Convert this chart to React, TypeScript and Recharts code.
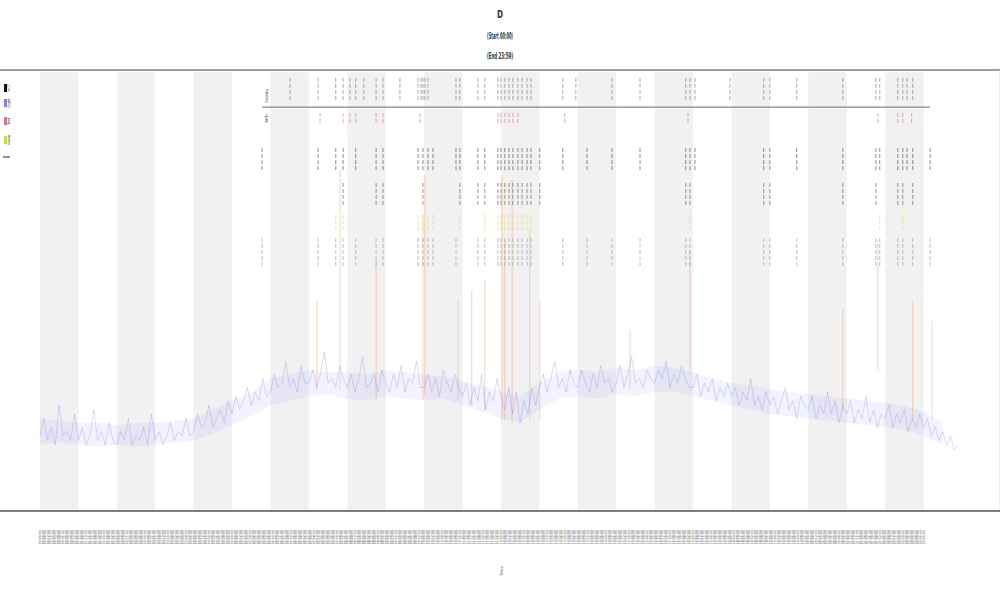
import React from 'react';
import { ComposedChart, Line, Area, XAxis, YAxis, ReferenceArea, ReferenceLine, Scatter } from 'recharts';

// activity trace, one value every 0.1 h
const activity = [
  17, 21, 16, 19, 15, 24, 17, 18, 16, 22,
  16, 19, 15, 17, 23, 16, 18, 15, 20, 16,
  15, 18, 16, 21, 15, 17, 16, 19, 15, 22,
  16, 18, 15, 17, 20, 16, 18, 17, 21, 17,
  18, 22, 19, 20, 24, 19, 21, 23, 20, 25,
  22, 26, 23, 25, 28, 24, 27, 25, 30, 26,
  27, 31, 28, 29, 34, 28, 30, 27, 33, 29,
  29, 32, 28, 31, 36, 29, 30, 28, 33, 30,
  28, 31, 27, 30, 35, 28, 29, 31, 27, 32,
  29, 27, 31, 28, 33, 27, 30, 29, 34, 28,
  28, 31, 27, 30, 26, 32, 29, 27, 31, 28,
  26, 29, 24, 28, 25, 31, 23, 27, 25, 30,
  26, 23, 28, 22, 27, 20, 25, 22, 28, 24,
  28, 31, 27, 30, 34, 28, 30, 27, 32, 29,
  28, 32, 29, 27, 31, 28, 33, 29, 30, 27,
  29, 33, 28, 31, 35, 29, 30, 28, 32, 30,
  29, 32, 30, 34, 28, 31, 29, 33, 30, 28,
  28, 31, 26, 29, 27, 30, 25, 28, 26, 29,
  26, 28, 24, 27, 25, 30, 24, 26, 23, 27,
  24, 26, 22, 25, 28, 23, 25, 21, 26, 24,
  23, 26, 21, 24, 22, 27, 22, 25, 20, 24,
  22, 25, 20, 23, 21, 26, 20, 23, 19, 22,
  21, 24, 19, 22, 20, 23, 18, 21, 19, 22,
  19, 21, 17, 19, 16, 18, 15, 17, 14, 15,
];

// dense part of the trace, every 0.5 h: lower and upper edge
const bandLow = [15, 15.5, 15, 14.5, 15, 14.5, 15, 15.5, 16, 17.5, 19.5, 21.5, 24, 25, 26, 26.5, 25.5, 25, 26, 25.5, 25, 25.5, 24, 22.5, 21, 20, 23, 25.5, 26, 25.5, 26.5, 26, 27, 27, 26, 25, 24, 23, 22, 21.5, 21, 20.5, 20, 19.5, 19, 18.5, 17, 15];
const bandHigh = [21, 20.5, 20, 20, 19.5, 20, 20, 20.5, 21, 23, 25, 27, 30, 31, 32, 31.5, 31.5, 31, 32, 31.5, 31, 30.5, 29.5, 28.5, 27, 26, 29, 31.5, 32, 31.5, 32.5, 32, 33, 32.5, 31.5, 30, 29, 28.5, 27.5, 27, 26.5, 26, 25.5, 25, 24.5, 24, 22.5, 20];

// event times (hours) per marker row
const rowA = [6.51, 7.24, 7.7, 7.89, 8.07, 8.22, 8.43, 8.75, 8.93, 9.37, 9.84, 9.92, 9.97, 10.02, 10.1, 10.83, 10.93, 11.4, 11.58, 11.92, 12.0, 12.1, 12.21, 12.31, 12.44, 12.55, 12.68, 12.78, 13.61, 13.95, 14.89, 15.62, 16.81, 16.92, 17.05, 17.96, 18.84, 19.0, 19.7, 20.9, 21.76, 21.86, 22.33, 22.46, 22.57, 22.72];
const rowB = [5.9, 7.29, 7.89, 8.07, 8.22, 8.75, 8.93, 9.89, 11.92, 12.0, 12.1, 12.21, 12.31, 12.44, 13.66, 16.87, 21.81, 22.33, 22.46, 22.69];
const rowC = [5.78, 7.24, 7.7, 7.89, 8.22, 8.75, 8.93, 9.84, 9.97, 10.1, 10.23, 10.83, 10.93, 11.4, 11.58, 11.92, 12.0, 12.1, 12.21, 12.31, 12.44, 12.55, 12.68, 12.78, 13.01, 13.61, 14.24, 14.89, 15.62, 16.81, 16.92, 17.05, 18.84, 19.0, 19.7, 20.9, 21.76, 21.86, 22.33, 22.46, 22.57, 22.72, 23.17];
const rowD = [7.89, 8.75, 8.93, 9.97, 10.93, 11.4, 11.58, 11.92, 12.0, 12.1, 12.21, 12.31, 12.44, 12.55, 12.68, 12.78, 13.01, 16.81, 16.92, 18.84, 19.0, 20.9, 21.76, 22.33, 22.46, 22.72];
const rowE = [7.7, 7.89, 9.84, 9.97, 10.1, 10.23, 10.93, 11.58, 11.92, 12.0, 12.1, 12.21, 12.31, 12.44, 12.55, 12.68, 12.78, 16.92, 21.86, 22.46];
const rowF = [5.78, 7.24, 7.7, 7.89, 8.22, 8.75, 8.93, 9.84, 9.97, 10.1, 10.23, 10.83, 11.4, 11.58, 11.92, 12.0, 12.1, 12.21, 12.31, 12.44, 12.55, 12.68, 12.78, 13.61, 14.24, 14.89, 15.62, 16.81, 16.92, 18.84, 19.0, 19.7, 20.9, 21.76, 21.86, 22.33, 22.46, 22.72, 23.17];

// orange spikes: time, top value, bottom value
const spikeTimes = [7.21, 7.81, 8.75, 9.97, 10.02, 10.88, 11.24, 11.58, 12.03, 12.1, 12.29, 12.75, 13.01, 15.36, 16.92, 20.9, 21.81, 22.72, 23.22];
const spikeTops = [47.8, 77.3, 56.9, 67.1, 76.2, 47.8, 50.1, 52.4, 76.2, 61.5, 75.1, 63.7, 47.8, 41.0, 59.2, 45.6, 61.5, 47.8, 43.3];
const spikeBottoms = [27.4, 27.4, 25.2, 25.2, 26.3, 25.2, 24.0, 22.9, 20.6, 20.6, 19.5, 20.6, 20.6, 27.4, 30.8, 22.9, 32.0, 20.6, 20.6];

const yTicks = [5, 25, 50, 75];
const bandStarts = [0, 2, 4, 6, 8, 10, 12, 14, 16, 18, 20, 22];
const eventLineStart = 5.78;
const eventLineEnd = 23.17;

const pad = (n: number) => String(n).padStart(2, '0');
const xTicks: number[] = [];
for (let i = 0; i <= 345; i++) xTicks.push(i / 15);
const tickLabel = (v: number) => {
  const m = Math.round(v * 60);
  return `${pad(Math.floor(m / 60))}:${pad(m % 60)}:00`;
};

const lineData = activity.map((v, i) => ({
  x: +(i * 0.1).toFixed(1),
  v,
  band: i % 5 === 0 && bandLow[i / 5] !== undefined ? [bandLow[i / 5], bandHigh[i / 5]] : undefined,
}));

const rows = [
  { data: rowA, center: 95.5, h: 24, color: '#666' },
  { data: rowB, center: 88.9, h: 12, color: '#e06070' },
  { data: rowC, center: 79.8, h: 22, color: '#333' },
  { data: rowD, center: 71.9, h: 22, color: '#444' },
  { data: rowE, center: 65.3, h: 17, color: '#d8d840' },
  { data: rowF, center: 58.5, h: 30, color: '#8a8a9a' },
];

const XTick = (props: any) => {
  const { x, payload } = props;
  return (
    <text transform={`translate(${x + 1},530) rotate(-90)`} textAnchor="end" fontSize={3.2} fill="#666" fontFamily="DejaVu Sans">
      {tickLabel(payload.value)}
    </text>
  );
};

const YTick = (props: any) => {
  const { y, payload } = props;
  return (
    <text transform={`translate(5,${y}) rotate(-90)`} textAnchor="middle" fontSize={3.5} fill="#888" fontFamily="DejaVu Sans">
      {payload.value}
    </text>
  );
};

export default function App() {
  return (
    <div style={{ position: 'absolute', left: 0, top: 0, width: 1000, height: 600, background: '#fff' }}>
      <ComposedChart width={1000} height={600} data={lineData} margin={{ top: 70, right: 0, bottom: 59, left: 0 }}>
        <XAxis
          dataKey="x"
          type="number"
          height={30}
          domain={[-1.04, 24.99]}
          ticks={xTicks}
          interval={0}
          tick={<XTick />}
          tickLine={false}
          axisLine={{ stroke: '#000', strokeWidth: 1 }}
          allowDataOverflow
        />
        <YAxis type="number" domain={[0, 100]} ticks={yTicks} width={0} mirror tick={<YTick />} axisLine={false} tickLine={false} allowDataOverflow />
        {bandStarts.map((s) => (
          <ReferenceArea key={s} x1={s} x2={s + 1} y1={0} y2={99.5} fill="#ececec" fillOpacity={0.75} stroke="none" ifOverflow="hidden" />
        ))}
        <ReferenceLine y={100} stroke="#9a9a9a" strokeWidth={2} />
        <ReferenceLine x={24.99} stroke="#ddd" strokeWidth={1} />
        <ReferenceLine segment={[{ x: eventLineStart, y: 91.6 }, { x: eventLineEnd, y: 91.6 }]} stroke="#888" strokeWidth={1.2} />
        {spikeTimes.map((t, i) => (
          <ReferenceLine
            key={`s${i}`}
            segment={[{ x: t, y: spikeTops[i] }, { x: t, y: spikeBottoms[i] }]}
            stroke="#f08a3c"
            strokeOpacity={0.45}
            strokeWidth={0.8}
          />
        ))}
        <Area dataKey="band" type="linear" connectNulls stroke="none" fill="#7a7aff" fillOpacity={0.09} isAnimationActive={false} />
        <Line dataKey="v" stroke="#5a5aff" strokeOpacity={0.38} strokeWidth={0.6} dot={false} isAnimationActive={false} />
        {rows.map((r, ri) => (
          <Scatter
            key={`r${ri}`}
            data={r.data.map((x) => ({ x, v: r.center }))}
            dataKey="v"
            isAnimationActive={false}
            shape={(p: any) => (
              <line x1={p.cx} x2={p.cx} y1={p.cy - r.h / 2} y2={p.cy + r.h / 2} stroke={r.color} strokeOpacity={0.7} strokeWidth={0.8} strokeDasharray="4 2" />
            )}
          />
        ))}
      </ComposedChart>
      <svg width={1000} height={600} style={{ position: 'absolute', left: 0, top: 0, pointerEvents: 'none' }} fontFamily="DejaVu Sans">
        <text x={500} y={18} textAnchor="middle" fontSize={10} fontWeight="bold" textLength={6} lengthAdjust="spacingAndGlyphs" fill="#333">D</text>
        <text x={500} y={39} textAnchor="middle" fontSize={9} fontWeight="bold" textLength={26} lengthAdjust="spacingAndGlyphs" fill="#333">(Start 00:00)</text>
        <text x={500} y={59} textAnchor="middle" fontSize={9} fontWeight="bold" textLength={26} lengthAdjust="spacingAndGlyphs" fill="#333">(End 23:59)</text>
        <text x={500} y={574} textAnchor="middle" fontSize={4} fill="#666" transform="rotate(-90 500 571)">Time</text>
        {/* legend */}
        <rect x={4} y={84} width={3} height={8} fill="#111" />
        <text transform="translate(10,88) rotate(-90)" textAnchor="middle" fontSize={3.5} fill="#444">ACT</text>
        <rect x={4} y={99} width={3} height={8} fill="#8080e0" />
        <text transform="translate(10,103) rotate(-90)" textAnchor="middle" fontSize={3.5} fill="#444">Light</text>
        <rect x={4} y={117} width={3} height={8} fill="#e070a0" />
        <text transform="translate(10,121) rotate(-90)" textAnchor="middle" fontSize={3.5} fill="#444">Red</text>
        <rect x={4} y={136} width={3} height={8} fill="#c8e040" />
        <text transform="translate(10,140) rotate(-90)" textAnchor="middle" fontSize={3.5} fill="#444">Green</text>
        <line x1={3} x2={10} y1={157} y2={157} stroke="#222" strokeWidth={1} />
        {/* row labels */}
        <text transform="translate(268,96) rotate(-90)" textAnchor="middle" fontSize={4} fill="#444">Events</text>
        <text transform="translate(268,119) rotate(-90)" textAnchor="middle" fontSize={4} fill="#444">Off</text>
      </svg>
    </div>
  );
}
